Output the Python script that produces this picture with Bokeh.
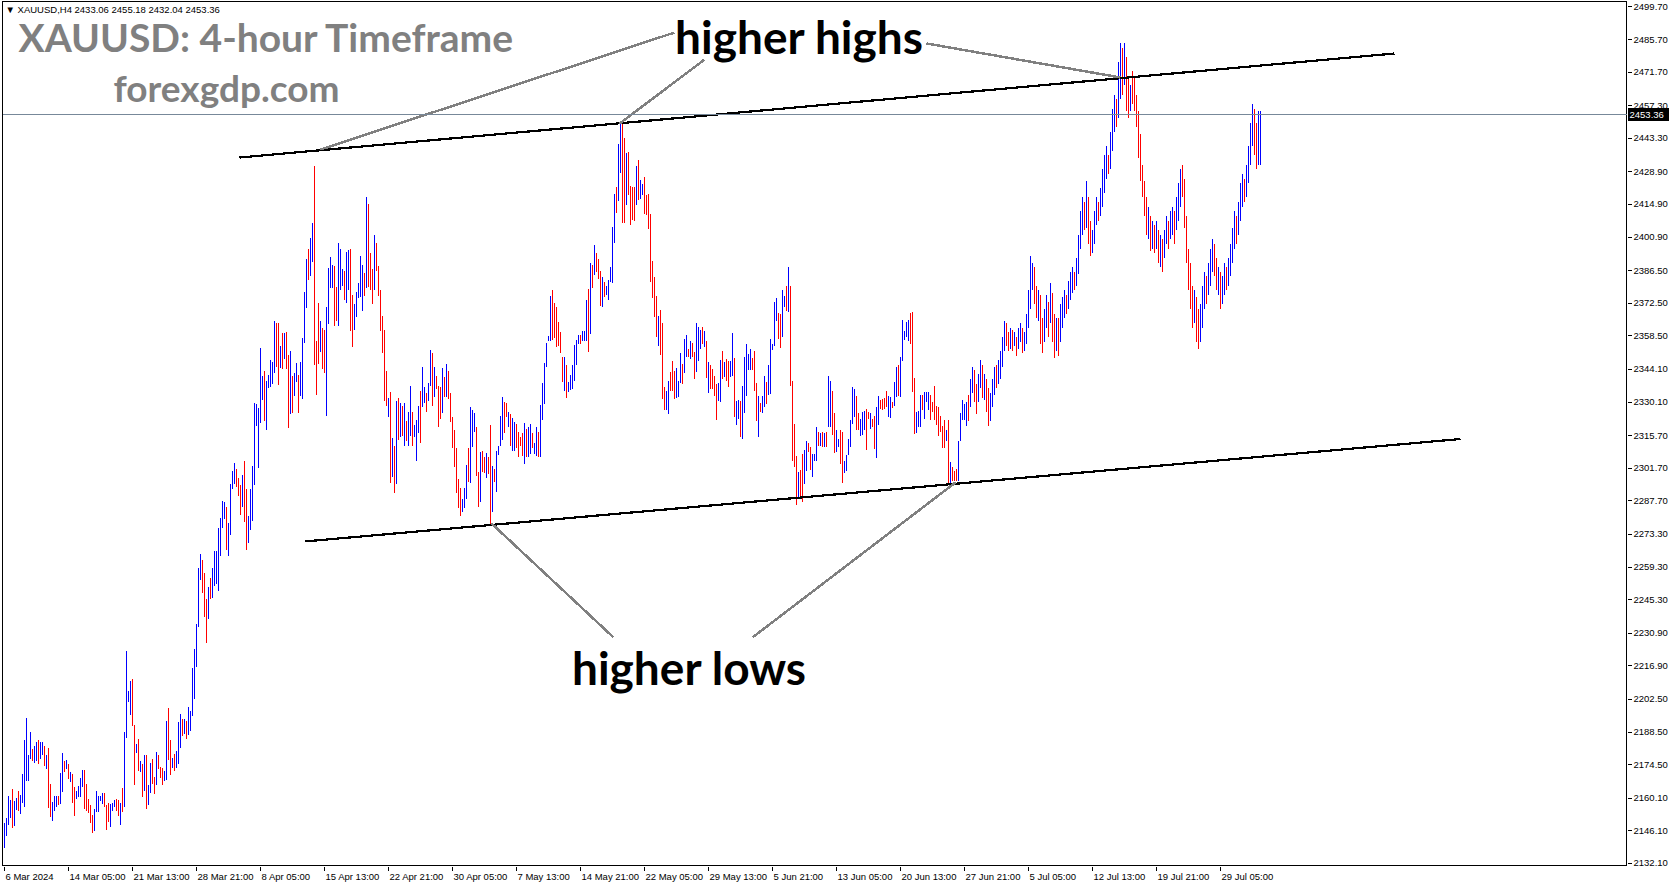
from bokeh.plotting import figure
from bokeh.models import Range1d, Span, Label, ColumnDataSource
from bokeh.layouts import row, column
from bokeh.core.properties import value
from bokeh.embed import file_html
from bokeh.resources import INLINE

# ---------------- data (XAUUSD H4 bars: high / low / direction u=up d=down) ----------------
hi_mar1 = [2149.3,2151.6,2161.2,2159.4,2164.0,2159.0,2160.2,2163.3,2161.6,2170.5,
           2185.2,2194.6,2178.6,2188.7,2181.2,2182.7,2184.4,2185.2,2184.1,2184.4,
           2182.5,2178.8,2181.8,2166.2,2158.3,2161.2,2161.2,2161.0,2171.1,2179.5,
           2176.2,2176.6,2174.8,2171.5,2170.5,2164.7,2163.3,2165.3,2168.9,2172.3,
           2172.3,2166.2,2159.9,2157.2,2153.0,2155.4,2163.3,2160.9,2160.9,2162.3,
           2162.3,2157.3,2158.2,2157.7,2158.0,2159.3,2159.7,2159.4,2158.2,2164.6,
           2188.7,2223.1,2206.3,2210.2,2211.3,2191.5,2183.5,2185.5,2176.2]
lo_mar1 = [2138.9,2143.7,2148.7,2151.4,2147.1,2148.3,2155.1,2154.6,2153.1,2158.2,
           2156.1,2167.6,2167.6,2176.9,2176.2,2175.1,2175.9,2174.8,2176.9,2178.8,
           2173.8,2172.6,2155.7,2151.9,2150.1,2154.7,2156.4,2157.0,2157.6,2162.9,
           2171.2,2172.5,2168.2,2166.9,2157.9,2152.3,2159.6,2160.5,2160.7,2164.7,
           2155.6,2154.7,2153.7,2149.6,2145.3,2146.1,2154.0,2154.0,2158.7,2157.6,
           2156.1,2146.3,2149.7,2147.6,2154.4,2156.1,2154.4,2152.3,2148.7,2154.0,
           2156.1,2185.8,2201.3,2196.0,2191.0,2165.8,2179.6,2171.9,2171.2]
dir_mar1 = ["uuuuduuduu", "uuuuduuduu", "dudduuuduu", "dududduuuu", "ddddduuuuu",
            "ddduuuddud", "uuuuddudu"]

hi_mar2 = [2174.7,2178.5,2178.5,2165.6,2175.2,2176.9,2169.1,2179.8,2178.8,2173.6,
           2173.1,2171.9,2193.4,2198.8,2185.1,2177.2,2179.0,2180.2,2192.9,2196.2,
           2193.9,2193.9,2193.4,2199.2,2197.5,2216.0,2224.2,2235.0,2258.9,2264.7,
           2262.2,2256.9,2245.7,2250.7,2254.8,2258.9,2266.0,2266.0,2275.9,2280.4,
           2287.8,2287.1,2285.0,2278.1,2294.9,2300.4,2304.0,2301.5,2297.7,2294.6,
           2299.0,2304.8,2292.9,2281.4,2292.9,2302.8,2329.9,2329.2,2327.6,2353.5,
           2341.1,2343.3,2339.0,2341.6,2348.1,2347.4,2364.7,2363.9,2363.9,2354.0]
lo_mar2 = [2160.4,2163.3,2155.4,2157.0,2162.3,2166.1,2162.0,2165.6,2172.7,2168.6,
           2165.6,2167.4,2167.8,2176.5,2169.9,2173.1,2171.9,2173.1,2174.7,2181.8,
           2186.8,2187.6,2185.6,2187.3,2188.9,2195.5,2202.8,2216.5,2233.5,2253.6,
           2248.2,2237.9,2226.9,2236.8,2245.4,2246.2,2251.2,2252.0,2249.2,2264.0,
           2275.9,2280.0,2266.5,2264.0,2273.1,2292.9,2294.9,2293.7,2290.0,2281.7,
           2285.0,2278.7,2266.5,2269.6,2275.1,2279.2,2294.6,2319.7,2302.0,2321.0,
           2330.9,2321.8,2318.0,2336.2,2336.5,2337.8,2342.5,2345.3,2337.3,2344.8]
dir_mar2 = ["duduuddudd", "duudduduuu", "duduuuuuuu", "ddduduuuuu", "uuduuuuddd",
            "udduuuuuuu", "uduuuuuddu"]

hi_apr = [2359.7,2359.8,2360.1,2350.5,2352.2,2341.1,2342.5,2346.8,2341.9,2347.5,
          2357.5,2377.5,2391.3,2395.6,2400.6,2406.9,2431.6,2356.5,2372.7,2364.7,
          2361.8,2361.2,2370.8,2387.6,2392.3,2389.1,2388.7,2379.4,2398.3,2395.6,
          2387.3,2386.3,2394.4,2395.4,2395.6,2376.1,2372.0,2377.3,2381.1,2393.0,
          2389.1,2385.4,2418.0,2414.9,2394.0,2387.0,2402.0,2398.3,2388.7,2378.0,
          2367.0,2361.2,2343.6,2331.7,2334.3,2314.6,2311.2,2330.7,2331.9,2329.7,
          2328.3,2329.7,2321.9,2326.0,2337.2,2326.0,2320.4,2322.2,2328.6,2334.8,
          2345.1,2336.5,2334.1,2338.3,2352.6]
lo_apr = [2344.1,2348.4,2344.3,2318.9,2325.0,2325.5,2332.5,2338.6,2325.3,2332.9,
          2331.5,2355.4,2370.4,2382.3,2384.4,2390.1,2345.8,2333.3,2346.5,2351.5,
          2344.3,2342.6,2324.0,2363.4,2379.0,2379.0,2362.7,2364.7,2362.9,2378.4,
          2380.1,2373.7,2372.5,2378.0,2360.4,2353.9,2361.2,2366.5,2374.7,2375.1,
          2369.0,2375.5,2379.0,2379.4,2378.0,2372.2,2378.0,2386.3,2375.5,2360.4,
          2351.1,2330.7,2328.6,2323.6,2295.3,2297.8,2291.0,2295.0,2314.0,2315.0,
          2315.7,2311.4,2313.3,2311.4,2315.7,2311.4,2315.0,2304.7,2316.9,2312.4,
          2328.2,2329.7,2325.7,2330.7,2336.9]
dir_apr = ["dudduduudu", "uuuduudddu", "dduuuudduu", "uduudduuuu", "ududdduddd",
           "dddudududu", "duduuduuud", "uuduu"]

hi_may1 = [2351.2,2345.0,2341.5,2337.2,2336.5,2344.6,2340.8,2346.5,2343.6,2334.0,
           2323.6,2317.9,2310.3,2297.1,2293.1,2288.5,2293.1,2303.3,2310.3,2328.2,
           2326.5,2325.5,2319.3,2299.9,2308.5,2308.9,2306.4,2308.3,2306.4,2320.4,
           2302.8,2301.4,2309.0,2311.4,2324.3,2332.2,2330.3,2329.7,2325.7,2325.0,
           2323.3,2321.4,2320.7,2317.4,2315.2,2316.7,2321.1,2318.6,2319.3,2320.7,
           2316.7,2312.4,2319.6,2317.1,2328.9,2338.2,2346.9,2355.5,2358.4,2375.5,
           2378.2,2372.5,2371.1,2364.4,2360.1,2349.6,2349.6,2345.8,2338.6,2341.8,
           2345.8,2354.6,2356.9,2359.1,2359.1,2360.8,2360.8,2373.9,2378.7,2389.8,
           2389.1,2397.3,2394.1,2391.3,2386.5]
lo_may1 = [2328.3,2332.2,2335.7,2319.3,2322.9,2325.3,2332.4,2332.4,2331.4,2321.4,
           2310.2,2302.1,2291.0,2284.5,2281.1,2282.8,2284.5,2288.5,2295.7,2295.3,
           2310.7,2317.1,2298.2,2284.9,2287.4,2300.2,2299.5,2297.4,2299.3,2277.8,
           2282.8,2295.7,2291.4,2307.4,2311.4,2313.9,2316.7,2323.6,2319.3,2311.4,
           2309.3,2309.3,2310.4,2306.4,2311.4,2307.1,2303.6,2306.4,2306.4,2307.9,
           2310.4,2307.9,2307.1,2306.4,2306.7,2322.6,2329.3,2345.0,2356.1,2356.5,
           2356.9,2357.5,2353.6,2354.3,2351.0,2338.6,2335.0,2331.9,2334.6,2335.3,
           2335.7,2339.3,2345.8,2355.1,2355.1,2356.5,2356.5,2356.5,2351.5,2359.4,
           2379.0,2384.7,2385.8,2383.0,2371.2]
dir_may1 = ["dudddududd", "ddddduuudu", "uudduddudd", "uduuuuddud", "uudddduduu",
            "duuduuuuuu", "dddddduduu", "uuuuduuudu", "duddd"]

hi_may2 = [2383.7,2381.8,2379.8,2382.3,2388.0,2405.2,2419.2,2422.6,2440.9,2450.2,
           2449.8,2443.4,2436.9,2437.4,2422.8,2422.3,2422.3,2431.6,2433.8,2425.6,
           2423.7,2426.6,2418.8,2419.5,2410.9,2390.8,2383.7,2375.8,2367.2,2369.8,
           2363.9,2336.5,2335.0,2339.3,2343.2,2347.6,2343.6,2344.8,2339.3,2351.2,
           2346.5,2357.2,2358.9,2352.9,2356.5,2355.5,2351.5,2364.1,2362.2,2361.2,
           2362.5,2360.8,2356.5,2347.2,2346.2,2344.3,2341.5,2337.9,2338.2,2348.2,
           2351.9,2347.5,2348.6,2347.6,2347.9,2359.6,2348.9,2330.7,2331.0,2330.7,
           2336.9,2349.3,2355.1,2350.8,2352.9,2349.1,2352.2,2338.2,2332.6,2329.7,
           2332.5,2341.5,2338.6,2345.8,2357.2,2355.1,2373.2,2374.8,2368.4,2367.9,
           2378.4,2375.8,2380.1,2388.0,2380.0]
lo_may2 = [2370.8,2375.4,2376.1,2373.7,2381.5,2381.2,2398.3,2411.2,2416.3,2428.3,
           2406.9,2406.9,2414.5,2419.0,2405.9,2408.3,2408.0,2414.5,2417.0,2417.3,
           2418.8,2410.9,2410.2,2404.2,2381.8,2374.7,2366.5,2357.9,2354.3,2350.1,
           2331.5,2326.7,2326.5,2325.0,2335.0,2335.0,2331.5,2331.9,2332.2,2338.2,
           2337.9,2342.6,2349.3,2349.6,2348.6,2349.3,2340.0,2342.9,2347.9,2352.9,
           2355.1,2353.6,2340.5,2333.9,2335.7,2335.7,2332.9,2322.4,2330.4,2330.0,
           2339.8,2340.8,2339.3,2336.5,2341.0,2341.5,2323.6,2320.3,2322.9,2315.0,
           2314.3,2325.5,2332.9,2343.9,2343.9,2344.0,2334.7,2321.9,2315.0,2325.7,
           2325.3,2328.2,2329.3,2333.3,2333.6,2352.5,2354.3,2365.1,2357.2,2353.4,
           2357.9,2370.8,2369.4,2368.9,2337.0]
dir_may2 = ["uduuuuuduu", "dduddddudu", "udddddddud", "dduuddduuu", "duududduuu",
            "dududddduu", "dudduuduud", "uuuuudddud", "uuduuuuudd", "uudud"]

hi_jun = [2339.3,2320.7,2307.1,2300.0,2301.1,2307.6,2309.6,2313.3,2312.4,2310.7,
          2307.9,2307.6,2319.6,2317.4,2316.7,2317.4,2316.7,2317.4,2341.5,2339.1,
          2335.0,2325.3,2318.2,2314.3,2318.3,2317.2,2305.0,2307.2,2314.3,2322.6,
          2336.5,2335.8,2332.9,2325.5,2322.9,2326.0,2326.2,2327.2,2325.8,2325.5,
          2322.9,2324.0,2327.9,2332.9,2331.2,2331.5,2331.9,2335.0,2332.9,2332.2,
          2330.0,2338.9,2345.1,2345.8,2349.4,2365.5,2360.8,2364.4,2365.5,2368.2,
          2368.7,2340.3,2325.8,2326.2,2333.3,2333.3,2334.3,2334.6,2334.3,2333.3,
          2330.0,2337.2,2328.6,2327.9,2324.0,2320.0,2322.2,2318.3,2322.2,2304.3,
          2302.1,2300.7,2301.3,2313.6,2325.5,2330.8,2329.1]
lo_jun = [2304.6,2302.4,2286.1,2289.3,2288.5,2287.1,2295.0,2300.7,2308.6,2301.1,
          2297.8,2304.7,2304.7,2311.4,2311.4,2310.7,2310.7,2310.7,2319.6,2319.6,
          2316.0,2308.2,2308.6,2310.7,2303.6,2295.4,2299.6,2300.7,2307.2,2310.7,
          2320.7,2323.6,2317.9,2317.9,2315.7,2316.0,2318.3,2309.6,2322.9,2318.6,
          2319.3,2310.0,2306.2,2320.4,2327.2,2326.8,2327.2,2327.9,2323.6,2323.3,
          2327.6,2328.6,2332.2,2332.9,2332.2,2347.6,2356.8,2357.9,2356.5,2355.1,
          2334.3,2316.5,2316.7,2319.3,2319.6,2326.5,2322.9,2330.0,2326.5,2322.6,
          2326.0,2322.2,2320.3,2315.4,2317.2,2310.4,2310.3,2313.6,2295.0,2295.0,
          2296.4,2296.4,2296.4,2296.4,2313.6,2322.2,2322.5]
dir_jun = ["dddudduudd", "uuudududuu", "dduudduuuu", "uudduuuddu", "dduudddduu",
           "duuduuuuud", "dduuuduuud", "dddddddudu", "ddduuuu"]

hi_jul = [2330,2333,2340,2345,2344,2338,2342,2348,2346,2342,
          2340,2336,2334,2340,2345,2346,2348,2352,2358,2365,
          2364,2360,2362,2361,2360,2358,2362,2364,2362,2360,
          2368,2378,2393,2390,2388,2380,2378,2376,2366,2370,
          2376,2373,2381,2377,2368,2366,2366,2372,2375,2378,
          2376,2382,2386,2388,2386,2392,2402,2412,2418,2416,
          2425,2418,2408,2404,2412,2418,2416,2422,2430,2436,
          2440,2436,2446,2456,2462,2460,2476,2484,2482,2484,
          2478,2470,2466,2472,2470,2462,2455,2445,2432,2425,
          2418,2414,2410,2408,2406,2408,2404,2402,2400,2404,
          2410,2408,2412,2414,2412,2418,2424,2430,2432,2426,
          2410,2396,2390,2380,2378,2375,2370,2372,2380,2386,
          2384,2390,2396,2400,2398,2392,2388,2386,2384,2390,
          2388,2392,2398,2405,2412,2410,2416,2424,2428,2426,
          2432,2440,2450,2458,2456,2450,2455,2455.18]
lo_jul = [2320,2322,2328,2334,2330,2325,2330,2336,2332,2331,
          2326,2320,2322,2328,2333,2336,2338,2340,2345,2352,
          2354,2352,2353,2352,2354,2350,2353,2356,2351,2352,
          2355,2362,2370,2378,2372,2366,2365,2355,2351,2356,
          2362,2358,2364,2356,2349,2352,2350,2356,2362,2366,
          2368,2370,2374,2377,2378,2380,2385,2396,2402,2404,
          2405,2398,2393,2394,2398,2406,2408,2410,2414,2420,
          2426,2428,2430,2438,2446,2448,2452,2460,2462,2466,
          2455,2452,2455,2458,2455,2448,2435,2425,2418,2410,
          2402,2400,2395,2396,2394,2396,2390,2388,2386,2392,
          2398,2396,2400,2402,2398,2404,2408,2414,2418,2405,
          2390,2378,2370,2362,2364,2356,2353,2356,2362,2370,
          2372,2376,2380,2386,2384,2378,2376,2370,2372,2376,
          2378,2380,2384,2390,2396,2398,2402,2408,2414,2416,
          2418,2424,2432,2440,2436,2430,2432,2432.04]
dir_jul = ["uduudduudu", "dduuuduuuu", "ddududuudu", "uuuudduddu", "ududduduuu",
           "duuuduuuud", "udduuuduuu", "uduuuduudu", "dduddddddd", "dududududu",
           "uduuduuudd", "ddddudduuu", "duuudduduu", "duuuuduuud", "uuuudduu"]

last_ohlc = [2433.06, 2455.18, 2432.04, 2453.36]

# time-axis labels, one every 32 H4 bars starting at bar 1
date_labels = ["6 Mar 2024", "14 Mar 05:00", "21 Mar 13:00", "28 Mar 21:00", "8 Apr 05:00",
               "15 Apr 13:00", "22 Apr 21:00", "30 Apr 05:00", "7 May 13:00", "14 May 21:00",
               "22 May 05:00", "29 May 13:00", "5 Jun 21:00", "13 Jun 05:00", "20 Jun 13:00",
               "27 Jun 21:00", "5 Jul 05:00", "12 Jul 13:00", "19 Jul 21:00", "29 Jul 05:00"]
price_ticks = [2499.70, 2485.70, 2471.70, 2457.30, 2443.30, 2428.90, 2414.90, 2400.90,
               2386.50, 2372.50, 2358.50, 2344.10, 2330.10, 2315.70, 2301.70, 2287.70,
               2273.30, 2259.30, 2245.30, 2230.90, 2216.90, 2202.50, 2188.50, 2174.50,
               2160.10, 2146.10, 2132.10]

# analyst annotations in (bar index, price)
upper_channel = [(118.75, 2435.06), (696.25, 2479.7)]
lower_channel = [(151.75, 2270.3), (729.25, 2314.25)]
hh_pointers = [[(336.25, 2488.7), (159.25, 2438.5)],
               [(351.25, 2477.1), (308.75, 2449.6)],
               [(462.25, 2484.0), (559.25, 2469.4)]]
hl_pointers = [[(305.75, 2229.1), (244.75, 2278.0)],
               [(375.25, 2229.1), (476.75, 2295.6)]]

# ---------------- build ----------------
bar_high = hi_mar1 + hi_mar2 + hi_apr + hi_may1 + hi_may2 + hi_jun + hi_jul
bar_low = lo_mar1 + lo_mar2 + lo_apr + lo_may1 + lo_may2 + lo_jun + lo_jul
bar_dir = "".join(dir_mar1 + dir_mar2 + dir_apr + dir_may1 + dir_may2 + dir_jun + dir_jul)
n = min(len(bar_high), len(bar_low))
bar_dir = (bar_dir + "u" * n)[:n]
bar_dir = bar_dir[:-1] + ("u" if last_ohlc[3] >= last_ohlc[0] else "d")
UP, DOWN = "#0000ff", "#ff0000"
src = ColumnDataSource(dict(x=list(range(1, n + 1)), hi=bar_high[:n], lo=bar_low[:n],
                            c=[UP if d == "u" else DOWN for d in bar_dir]))

FW, FH = 1625, 865          # main frame
RW, BH = 46, 22             # right price scale / bottom time scale
PX = 2.33                   # pixels per price unit
y_top = 2502.02
y_bot = y_top - FH / PX
x0 = 0.25
xr = Range1d(x0, x0 + FW / 2)
yr = Range1d(y_bot, y_top)

FONT = "Liberation Sans"
CRISP = {"shape-rendering": "crispEdges"}   # MT4-like aliased drawing

def bare(fig):
    fig.xgrid.visible = False
    fig.ygrid.visible = False
    fig.background_fill_color = "white"
    fig.border_fill_color = "white"
    fig.styles = CRISP
    return fig

p = bare(figure(frame_width=FW, frame_height=FH, x_range=xr, y_range=yr,
                output_backend="svg", toolbar_location=None,
                x_axis_location=None, y_axis_location=None,
                min_border_left=2, min_border_top=1, min_border_right=0, min_border_bottom=0))
p.outline_line_color = "black"
p.outline_line_width = 1

# each bar: a 1-pixel-wide high-low stick (0.5 bar units = 1 px)
p.vbar(x="x", width=0.5, top="hi", bottom="lo", fill_color="c", line_color=None, source=src)

for seg in (upper_channel, lower_channel):
    p.line([seg[0][0], seg[1][0]], [seg[0][1], seg[1][1]], line_color="black", line_width=2.2)
for seg in hh_pointers + hl_pointers:
    p.line([seg[0][0], seg[1][0]], [seg[0][1], seg[1][1]], line_color="#808080", line_width=2.5)

p.add_layout(Span(location=last_ohlc[3], dimension="width", line_color="#778899", line_width=1))

p.add_layout(Label(x=1.75, y=2498.6, text="\u25bc XAUUSD,H4  2433.06 2455.18 2432.04 2453.36",
                   text_font=FONT, text_font_size="9.5px", text_color="black",
                   text_baseline="middle", text_align="left"))
p.add_layout(Label(x=8.25, y=2486.6, text="XAUUSD: 4-hour Timeframe", text_font="Lato",
                   text_font_style="bold", text_font_size="39px", text_color="#808080",
                   text_baseline="middle", text_align="left"))
p.add_layout(Label(x=112.25, y=2465.1, text="forexgdp.com", text_font="Lato",
                   text_font_style="bold", text_font_size="37px", text_color="#808080",
                   text_baseline="middle", text_align="center"))
p.add_layout(Label(x=398.75, y=2487.0, text="higher highs", text_font="Lato",
                   text_font_style="bold", text_font_size="46px", text_color="black",
                   text_baseline="middle", text_align="center"))
p.add_layout(Label(x=343.75, y=2216.3, text="higher lows", text_font="Lato",
                   text_font_style="bold", text_font_size="46px", text_color="black",
                   text_baseline="middle", text_align="center"))

# ---- bottom time scale ----
pb = bare(figure(frame_width=FW, frame_height=BH, x_range=xr, y_range=Range1d(BH, 0),
                 output_backend="svg", toolbar_location=None,
                 x_axis_location=None, y_axis_location=None,
                 min_border_left=2, min_border_top=0, min_border_right=0, min_border_bottom=0))
pb.outline_line_color = None
tick_bars = [1 + 32 * k for k in range(len(date_labels))]
pb.segment(x0=tick_bars, y0=[0] * len(tick_bars), x1=tick_bars, y1=[4] * len(tick_bars),
           line_color="black", line_width=1)
pb.text(x=[b + 0.75 for b in tick_bars], y=[10] * len(tick_bars), text=date_labels,
        text_font=value(FONT), text_font_size=value("9.5px"), text_color="black",
        text_align="left", text_baseline="middle")

# ---- right price scale ----
ph = FH + BH
pr = bare(figure(frame_width=RW, frame_height=ph, x_range=Range1d(0, RW),
                 y_range=Range1d(y_top - ph / PX, y_top),
                 output_backend="svg", toolbar_location=None,
                 x_axis_location=None, y_axis_location=None,
                 min_border_left=0, min_border_top=1, min_border_right=0, min_border_bottom=0))
pr.outline_line_color = None
pr.segment(x0=[0] * len(price_ticks), y0=price_ticks, x1=[4] * len(price_ticks), y1=price_ticks,
           line_color="black", line_width=1)
pr.text(x=[6] * len(price_ticks), y=price_ticks, text=["%.2f" % v for v in price_ticks],
        text_font=value(FONT), text_font_size=value("9.5px"), text_color="black",
        text_align="left", text_baseline="middle")
tag_h = 6.5 / PX
pr.quad(left=[0.5], right=[41], bottom=[last_ohlc[3] - tag_h], top=[last_ohlc[3] + tag_h],
        fill_color="black", line_color=None)
pr.text(x=[2], y=[last_ohlc[3]], text=["%.2f" % last_ohlc[3]],
        text_font=value(FONT), text_font_size=value("9.5px"), text_color="white",
        text_align="left", text_baseline="middle")

layout = row(column(p, pb, styles=CRISP), pr, styles=CRISP)
open("out.html", "w").write(file_html(layout, INLINE))
